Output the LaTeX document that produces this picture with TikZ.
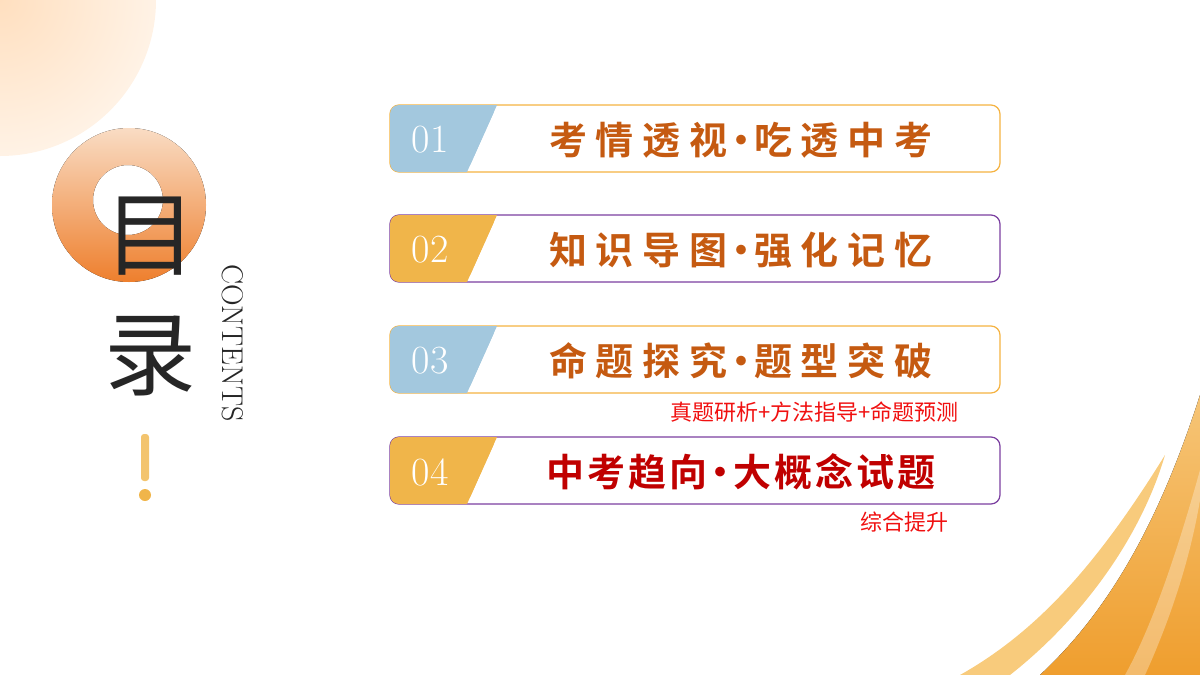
\documentclass[tikz,border=0pt]{standalone}
\usepackage{fontspec}
\newfontfamily\cjk{Noto Sans CJK SC}
\newfontfamily\cjkbold{Noto Sans CJK SC Bold}
\usetikzlibrary{positioning}
\definecolor{tabblue}{HTML}{A3C8DE}
\definecolor{taborange}{HTML}{F0B54A}
\definecolor{linegold}{HTML}{F5B342}
\definecolor{linepurple}{HTML}{7B3FA0}
\definecolor{titlebrown}{HTML}{C55A11}
\definecolor{titlered}{HTML}{C00000}
\definecolor{notered}{HTML}{F01010}
\definecolor{swooshlight}{HTML}{F8CB7C}
\definecolor{swooshtop}{HTML}{F6C577}
\definecolor{swooshbottom}{HTML}{EF9E2E}
\tikzset{
  barbox/.style={draw=#1, line width=1.2pt, fill=white, rounded corners=9pt},
  numtext/.style={text=white, font=\fontsize{40}{42}\selectfont},
  titletext/.style={text=#1, font=\cjkbold\fontsize{38}{42}\selectfont},
  notetext/.style={text=notered, font=\cjk\fontsize{22}{24}\selectfont, anchor=east}
}
\newcommand{\gap}{\hspace{9pt}}
\newcommand{\smallgap}{\hspace{3pt}}
\newcommand{\middot}{\hspace{-6pt}·\hspace{-6pt}}
\newcommand{\tocbar}[4]{% y, tab colour, line colour, number
  \draw[barbox=#3] (390,#1) rectangle (1000,#1+67);
  \fill[#2, rounded corners=9pt] (390,#1+67) -- (390,#1) -- (497,#1) -- (467,#1+67) -- cycle;
  \fill[#2] (450,#1) -- (497,#1) -- (467,#1+67) -- (450,#1+67) -- cycle;
  \node[numtext] (num#4) at (430,#1+35) {#4};
}
\begin{document}
\begin{tikzpicture}[x=1pt, y=-1pt]
\useasboundingbox (0,0) rectangle (1200,675);
% background shapes
\shade[inner color=orange!25, outer color=orange!10] (0,0) circle (156);
\begin{scope}
  \clip (0,0) rectangle (1200,675);
  \fill[swooshlight] (1165,455) .. controls (1100,560) and (1040,630) .. (960,675) -- (1010,675) .. controls (1080,620) and (1140,540) .. (1165,455) -- cycle;
  \fill[top color=swooshtop, bottom color=swooshbottom] (1200,395) .. controls (1160,520) and (1110,610) .. (1040,675) -- (1200,675) -- cycle;
  \fill[white, opacity=0.3] (1200,470) .. controls (1175,560) and (1150,630) .. (1125,675) -- (1145,675) .. controls (1170,620) and (1190,560) .. (1200,500) -- cycle;
\end{scope}
% ring and heading
\fill[top color={rgb,255:red,249;green,220;blue,196}, bottom color={rgb,255:red,238;green,127;blue,45}, even odd rule] (129,205) circle (77) (128,200) circle (35);
\node[font=\cjk\fontsize{92}{96}\selectfont, text=black!85] (mu) at (150,236) {目};
\node[font=\cjk\fontsize{92}{96}\selectfont, text=black!85] (lu) at (150,356) {录};
\node[font=\fontsize{30}{32}\selectfont, rotate=-90, text=black!85] (contents) at (233,343) {CONTENTS};
\fill[taborange!80, rounded corners=3pt] (141,434) rectangle (149,481);
\fill[taborange] (145,495) circle (6);
% contents bars
\tocbar{105}{tabblue}{linegold}{01}
\tocbar{215}{taborange}{linepurple}{02}
\tocbar{326}{tabblue}{linegold}{03}
\tocbar{437}{taborange}{linepurple}{04}
\node[titletext=titlebrown] (t1) at (741,140) {考\gap 情\gap 透\gap 视\middot 吃\gap 透\gap 中\gap 考};
\node[titletext=titlebrown] (t2) at (741,250) {知\gap 识\gap 导\gap 图\middot 强\gap 化\gap 记\gap 忆};
\node[titletext=titlebrown] (t3) at (741,361) {命\gap 题\gap 探\gap 究\middot 题\gap 型\gap 突\gap 破};
\node[titletext=titlered] (t4) at (741,472) {中\smallgap 考\smallgap 趋\smallgap 向\middot 大\smallgap 概\smallgap 念\smallgap 试\smallgap 题};
\node[notetext] (n3) at (962,412) {真题研析+方法指导+命题预测};
\node[notetext] (n4) at (952,522) {综合提升};
\end{tikzpicture}
\end{document}
